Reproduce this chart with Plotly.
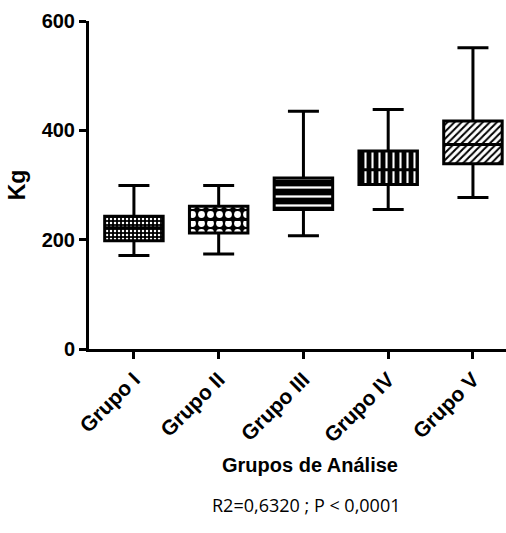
import plotly.graph_objects as go

groups = ["Grupo I", "Grupo II", "Grupo III", "Grupo IV", "Grupo V"]
lower = [171, 174, 207, 255, 277]
q1 = [198, 212, 255, 301, 339]
median = [222, 237, 289, 328, 374]
q3 = [243, 261, 313, 362, 417]
upper = [299, 299, 435, 438, 551]

pat_shape = [".", ".", "-", "|", "/"]
pat_fg = ["white", "white", "white", "white", "black"]
pat_bg = ["black", "black", "black", "black", "white"]
pat_size = [4, 9, 9, 7, 5]
pat_solid = [0.3, 0.45, 0.25, 0.3, 0.4]

yticks = [0, 200, 400, 600]

fig = go.Figure()
fig.add_trace(go.Bar(
    x=groups, y=[b - a for a, b in zip(q1, q3)], base=q1,
    width=0.69,
    marker=dict(color="black", line=dict(width=0),
                pattern=dict(shape=pat_shape, fgcolor=pat_fg, bgcolor=pat_bg,
                             size=pat_size, solidity=pat_solid, fillmode="replace")),
    showlegend=False, hoverinfo="skip"))
fig.add_trace(go.Box(
    x=groups, q1=q1, median=median, q3=q3, lowerfence=lower, upperfence=upper,
    width=0.69, whiskerwidth=0.53, fillcolor="rgba(0,0,0,0)",
    line=dict(color="black", width=3), showlegend=False))

fig.update_layout(
    width=506, height=533,
    margin=dict(l=89, r=0, t=21, b=184),
    paper_bgcolor="white", plot_bgcolor="white",
    font=dict(family="Liberation Sans", color="black"),
    xaxis=dict(range=[-0.53, 4.39], showline=True, linecolor="black", linewidth=3,
               ticks="outside", ticklen=7, tickwidth=3, tickcolor="black",
               tickangle=-45, tickfont=dict(size=21, family="Liberation Sans", weight="bold"),
               showgrid=False, zeroline=False),
    yaxis=dict(range=[0, 600], tickvals=yticks, showline=True, linecolor="black", linewidth=3,
               ticks="outside", ticklen=7, tickwidth=3, tickcolor="black",
               tickfont=dict(size=20, family="Liberation Sans", weight="bold"),
               showgrid=False, zeroline=False,
               title=dict(text="<b>Kg</b>", font=dict(size=23, family="Liberation Sans"), standoff=10)),
)
fig.add_annotation(text="<b>Grupos de Análise</b>", xref="paper", yref="paper",
                   x=0.53, y=-0.354, showarrow=False, yanchor="middle",
                   font=dict(family="Liberation Sans", size=20, color="black"))
fig.add_annotation(text="R2=0,6320 ; P < 0,0001", xref="paper", yref="paper",
                   x=0.52, y=-0.475, showarrow=False, yanchor="middle",
                   font=dict(family="Open Sans", size=18, color="black"))

fig.write_html("out.html")
